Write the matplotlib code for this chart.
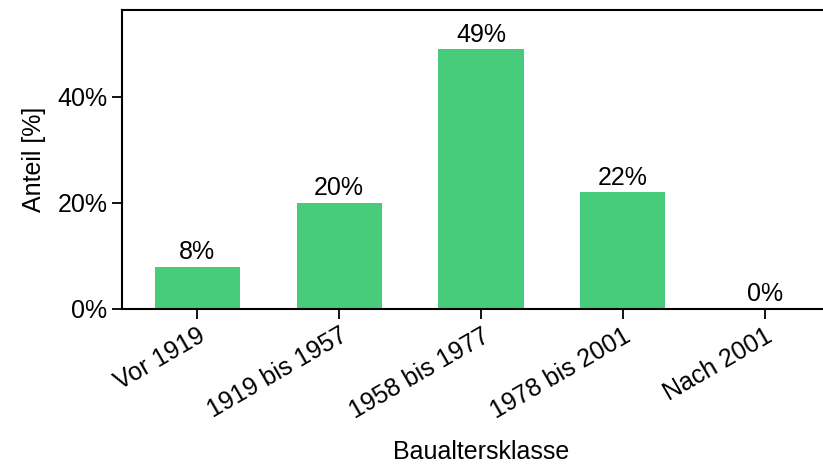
import matplotlib
matplotlib.use('Agg')
import matplotlib.pyplot as plt
from matplotlib.ticker import PercentFormatter

# Data
categories = ['Vor 1919', '1919 bis 1957', '1958 bis 1977', '1978 bis 2001', 'Nach 2001']
shares = [8, 20, 49, 22, 0]

plt.rcParams['font.family'] = ['Liberation Sans', 'DejaVu Sans']
plt.rcParams['font.size'] = 18

fig = plt.figure(figsize=(8.23, 4.65), dpi=100)
ax = fig.add_axes([122/823, 156/465, 718/823, 299/465])

x = range(len(categories))
bars = ax.bar(x, shares, width=0.6, color='#46cc7a')
for bar, val in zip(bars, shares):
    ax.text(bar.get_x() + bar.get_width()/2, bar.get_height() + 0.5,
            f'{val}%', ha='center', va='bottom', fontsize=18)

ax.set_xlim(-0.53, 4.53)
ax.set_ylim(0, 56.4)
ax.set_yticks([0, 20, 40])
ax.yaxis.set_major_formatter(PercentFormatter(decimals=0))
ax.set_xticks(list(x))
ax.set_xticklabels(categories, rotation=30, ha='right', rotation_mode='anchor')
ax.set_xlabel('Baualtersklasse', fontsize=18, labelpad=12)
ax.set_ylabel('Anteil [%]', fontsize=18, labelpad=8)
ax.tick_params(length=7, width=1.3)
for s in ax.spines.values():
    s.set_linewidth(1.5)

fig.savefig('out.png', dpi=100)
